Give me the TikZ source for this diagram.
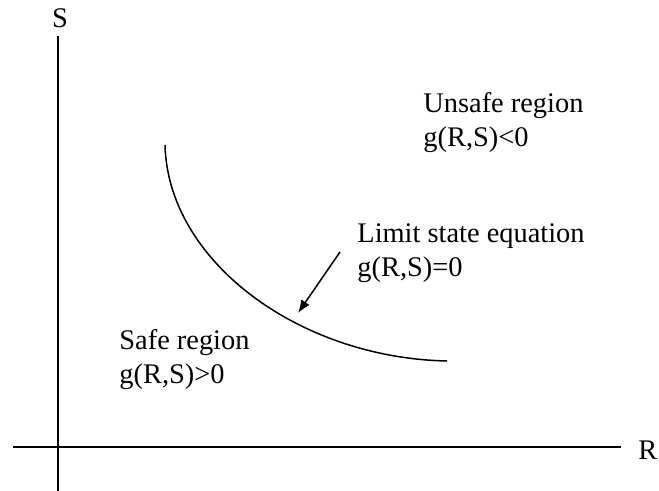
\documentclass[tikz,border=0pt]{standalone}
\usepackage{fontspec}
\setmainfont{Liberation Serif}
\usetikzlibrary{arrows.meta}

\tikzset{
  lbl/.style={inner sep=0pt, anchor=base west, align=left, font=\fontsize{14.2}{17}\selectfont},
  axis/.style={line width=0.9pt},
}

\begin{document}
\begin{tikzpicture}[x=0.5pt, y=-0.5pt]
\useasboundingbox (0,0) rectangle (659,491);

% Axes
\coordinate (stop) at (58,36);
\coordinate (sbot) at (58,491);
\coordinate (rleft) at (13,447);
\coordinate (rright) at (621,447);
\draw[axis] (stop) -- (sbot);
\draw[axis] (rleft) -- (rright);
\node[inner sep=0pt, anchor=base, font=\fontsize{14.2}{17}\selectfont] (slabel) at (60,28) {S};
\node[lbl] (rlabel) at (638,460) {R};

% Limit state curve
\coordinate (cstart) at (165,145);
\coordinate (cend) at (447,361);
\draw[line width=0.75pt] (cstart) .. controls (168,262) and (300,358) .. (cend);

% Arrow to the curve
\coordinate (atail) at (340,252);
\coordinate (ahead) at (298,313);
\draw[line width=0.75pt, -{Latex[length=6.5pt,width=5pt]}] (atail) -- (ahead);

% Labels (anchored on the baseline of the last line)
\node[lbl] (unsafe) at (423,147) {Unsafe region\\g(R,S)<0};
\node[lbl] (limit) at (357,277) {Limit state equation\\g(R,S)=0};
\node[lbl] (safe) at (119,384) {Safe region\\g(R,S)>0};

\end{tikzpicture}
\end{document}
